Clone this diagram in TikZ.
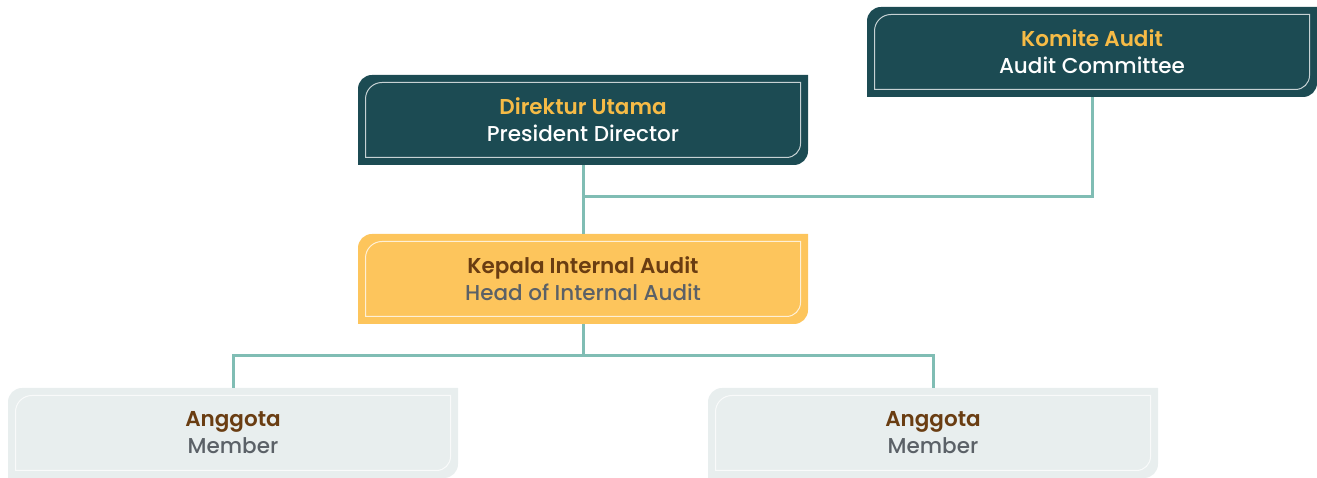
\documentclass[tikz,border=0pt]{standalone}
\usepackage{fontspec}
\setmainfont{Poppins Medium}[BoldFont={Poppins SemiBold}]
\usepackage{tikz}

\definecolor{darkteal}{HTML}{1C4B53}
\definecolor{goldtext}{HTML}{F6BB46}
\definecolor{goldfill}{HTML}{FDC55C}
\definecolor{browntext}{HTML}{6A3D12}
\definecolor{greytext}{HTML}{5B6167}
\definecolor{greyfill}{HTML}{E8EEEE}
\definecolor{linkline}{HTML}{80BDB4}

\begin{document}
\begin{tikzpicture}[x=1pt, y=1pt,
  card/.style={minimum width=450pt, minimum height=90pt, inner sep=0pt,
    align=center, font=\fontsize{21.5}{27}\selectfont,
    path picture={
      \fill[#1] ([yshift=-14pt]path picture bounding box.north west)
        arc[start angle=180, end angle=90, radius=14pt]
        -- (path picture bounding box.north east)
        -- ([yshift=14pt]path picture bounding box.south east)
        arc[start angle=0, end angle=-90, radius=14pt]
        -- (path picture bounding box.south west) -- cycle;
      \draw[white, opacity=0.75, line width=1pt]
        ([shift={(7.5pt,-24pt)}]path picture bounding box.north west)
        arc[start angle=180, end angle=90, radius=16.5pt]
        -- ([shift={(-7.5pt,-7.5pt)}]path picture bounding box.north east)
        -- ([shift={(-7.5pt,21.5pt)}]path picture bounding box.south east)
        arc[start angle=0, end angle=-90, radius=14pt]
        -- ([shift={(7.5pt,7.5pt)}]path picture bounding box.south west) -- cycle;
    }},
  darkcard/.style={card=darkteal, text=white},
  goldcard/.style={card=goldfill, text=greytext},
  greycard/.style={card=greyfill, text=greytext},
  link/.style={draw=linkline, line width=3pt}]

\useasboundingbox (0,0) rectangle (1317,478);

\node[darkcard] (kom) at (1092,426)
{\textcolor{goldtext}{\bfseries Komite Audit}\\Audit Committee};

\node[darkcard] (dir) at (583,358)
{\textcolor{goldtext}{\bfseries Direktur Utama}\\President Director};

\node[goldcard] (kep) at (583,199)
{\textcolor{browntext}{\bfseries Kepala Internal Audit}\\Head of Internal Audit};

\node[greycard] (m1) at (233,45)
{\textcolor{browntext}{\bfseries Anggota}\\Member};

\node[greycard] (m2) at (933,45)
{\textcolor{browntext}{\bfseries Anggota}\\Member};

\coordinate (j1) at (583,281);
\coordinate (j2) at (583,122);

\draw[link] (dir.south) -- (kep.north);

\draw[link] (kom.south) |- (j1);

\draw[link] (kep.south) -- (j2);

\draw[link] (m1.north) |- (j2) -| (m2.north);

\end{tikzpicture}
\end{document}
